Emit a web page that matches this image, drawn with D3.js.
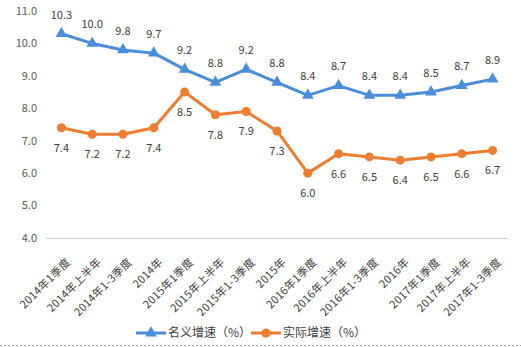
<!DOCTYPE html>
<html><head><meta charset="utf-8">
<script src="https://cdn.jsdelivr.net/npm/d3@7"></script>
<style>
body{margin:0;background:#fff;}
svg{display:block;font-family:"Noto Sans CJK SC","Noto Sans",sans-serif;}
</style></head>
<body><svg id="c" width="521" height="347"></svg>
<script>
const categories = ["2014年1季度","2014年上半年","2014年1-3季度","2014年","2015年1季度","2015年上半年","2015年1-3季度","2015年","2016年1季度","2016年上半年","2016年1-3季度","2016年","2017年1季度","2017年上半年","2017年1-3季度"];
const nominal = [10.3,10.0,9.8,9.7,9.2,8.8,9.2,8.8,8.4,8.7,8.4,8.4,8.5,8.7,8.9];
const real = [7.4,7.2,7.2,7.4,8.5,7.8,7.9,7.3,6.0,6.6,6.5,6.4,6.5,6.6,6.7];
const yTicks = [4,5,6,7,8,9,10,11];
const seriesNames = ["名义增速（%）","实际增速（%）"];
const colors = ["#4A8EDB","#ED7D31"];

const svg = d3.select("#c");
const x = d3.scaleBand().domain(categories).range([46,508]);
const y = d3.scaleLinear().domain([4,11]).range([238,11]);
const cx = d => x(d) + x.bandwidth()/2;

// y labels
svg.append("g").selectAll("text").data(yTicks).join("text")
  .attr("x",37).attr("y",d=>y(d)).attr("dy","0.35em").attr("text-anchor","end")
  .attr("font-size",11).attr("fill","#595959").text(d=>d.toFixed(1));
// baseline
svg.append("line").attr("x1",46).attr("x2",508).attr("y1",y(4)+0.5).attr("y2",y(4)+0.5)
  .attr("stroke","#D0D0D0").attr("stroke-width",1);
// x labels
svg.append("g").selectAll("text").data(categories).join("text")
  .attr("transform",d=>`translate(${cx(d)+7},${y(4)+22}) rotate(-45)`)
  .attr("text-anchor","end").attr("dy","0.35em").attr("letter-spacing","0.3px")
  .attr("font-size",11).attr("fill","#404040").text(d=>d);

const line = d3.line().x((d,i)=>cx(categories[i])).y(d=>y(d));
// series
[nominal,real].forEach((vals,si)=>{
  svg.append("path").datum(vals).attr("d",line).attr("fill","none")
    .attr("stroke",colors[si]).attr("stroke-width",3).attr("stroke-linejoin","round");
  const g = svg.append("g");
  if(si===0){
    g.selectAll("path").data(vals).join("path")
      .attr("d",d3.symbol(d3.symbolTriangle,60))
      .attr("transform",(d,i)=>`translate(${cx(categories[i])},${y(d)})`)
      .attr("fill",colors[0]);
  } else {
    g.selectAll("circle").data(vals).join("circle")
      .attr("cx",(d,i)=>cx(categories[i])).attr("cy",d=>y(d)).attr("r",4.5)
      .attr("fill",colors[1]);
  }
  svg.append("g").selectAll("text").data(vals).join("text")
    .attr("x",(d,i)=>cx(categories[i])).attr("y",d=>y(d)+(si===0?-19:20))
    .attr("dy","0.35em").attr("text-anchor","middle")
    .attr("font-size",11).attr("fill","#404040").text(d=>d.toFixed(1));
});

// legend
const legX = [136,251];
seriesNames.forEach((n,i)=>{
  const g = svg.append("g").attr("transform",`translate(${legX[i]},333)`);
  g.append("line").attr("x1",0).attr("x2",30).attr("stroke",colors[i]).attr("stroke-width",3);
  if(i===0) g.append("path").attr("d",d3.symbol(d3.symbolTriangle,60)).attr("transform","translate(15,0)").attr("fill",colors[0]);
  else g.append("circle").attr("cx",15).attr("r",4.5).attr("fill",colors[1]);
  g.append("text").attr("x",32).attr("dy","0.35em").attr("font-size",12).attr("fill","#404040").text(n);
});
// bottom dotted border
svg.append("line").attr("x1",0).attr("x2",521).attr("y1",345.5).attr("y2",345.5)
  .attr("stroke","#A0A0A0").attr("stroke-dasharray","2,2");
</script></body></html>
